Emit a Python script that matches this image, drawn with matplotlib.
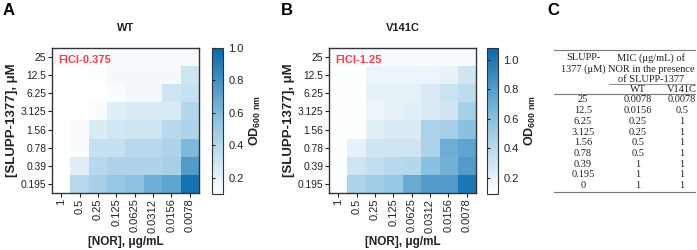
import numpy as np
import matplotlib
matplotlib.use('Agg')
import matplotlib.pyplot as plt
from matplotlib.colors import LinearSegmentedColormap, Normalize
from matplotlib.lines import Line2D

plt.rcParams['font.family'] = ['Liberation Sans', 'DejaVu Sans']
plt.rcParams['mathtext.fontset'] = 'custom'
plt.rcParams['mathtext.rm'] = 'Liberation Sans'
plt.rcParams['mathtext.bf'] = 'Liberation Sans:bold'

# checkerboard axes
nor_labels = ['1', '0.5', '0.25', '0.125', '0.0625', '0.0312', '0.0156', '0.0078']
slupp_labels = ['25', '12.5', '6.25', '3.125', '1.56', '0.78', '0.39', '0.195']

# OD600 values, rows = SLUPP-1377 (top to bottom), cols = NOR
od_wt = [
    [0.12, 0.12, 0.12, 0.13, 0.13, 0.13, 0.13, 0.13],
    [0.10, 0.10, 0.11, 0.14, 0.14, 0.14, 0.14, 0.30],
    [0.10, 0.10, 0.10, 0.12, 0.15, 0.15, 0.30, 0.32],
    [0.10, 0.10, 0.12, 0.22, 0.25, 0.25, 0.25, 0.40],
    [0.10, 0.12, 0.25, 0.28, 0.30, 0.30, 0.38, 0.42],
    [0.10, 0.12, 0.33, 0.33, 0.38, 0.38, 0.42, 0.60],
    [0.10, 0.22, 0.38, 0.42, 0.42, 0.42, 0.45, 0.75],
    [0.10, 0.38, 0.45, 0.52, 0.55, 0.65, 0.70, 0.95],
]
od_v141c = [
    [0.12, 0.12, 0.12, 0.12, 0.12, 0.12, 0.12, 0.12],
    [0.10, 0.10, 0.18, 0.18, 0.18, 0.18, 0.20, 0.30],
    [0.10, 0.10, 0.20, 0.20, 0.20, 0.25, 0.32, 0.38],
    [0.10, 0.10, 0.18, 0.20, 0.22, 0.25, 0.30, 0.48],
    [0.10, 0.10, 0.22, 0.25, 0.25, 0.45, 0.48, 0.60],
    [0.10, 0.20, 0.30, 0.30, 0.30, 0.45, 0.70, 0.75],
    [0.10, 0.30, 0.35, 0.40, 0.42, 0.60, 0.68, 0.80],
    [0.10, 0.45, 0.50, 0.55, 0.72, 0.80, 0.80, 1.00],
]
fici = ['FICI-0.375', 'FICI-1.25']
titles = ['WT', 'V141C']
letters = ['A', 'B', 'C']
cbar_range = [(0.10, 1.00), (0.09, 1.08)]

# MIC table
tbl_slupp = ['25', '12.5', '6.25', '3.125', '1.56', '0.78', '0.39', '0.195', '0']
tbl_wt = ['0.0078', '0.0156', '0.25', '0.25', '0.5', '0.5', '1', '1', '1']
tbl_v141c = ['0.0078', '0.5', '1', '1', '1', '1', '1', '1', '1']

W, H = 697, 250
fig = plt.figure(figsize=(W / 100, H / 100), dpi=100)

def box(x0, y0, x1, y1):
    return [x0 / W, 1 - y1 / H, (x1 - x0) / W, (y1 - y0) / H]

cmap = LinearSegmentedColormap.from_list('od', ['#ffffff', '#8ec3e2', '#0669ae'])
txt = '#222222'

panels = [(od_wt, 52, 212), (od_v141c, 329, 487)]
for i, (data, x0, cx) in enumerate(panels):
    ax = fig.add_axes(box(x0, 48, x0 + 147, 193))
    norm = Normalize(*cbar_range[i])
    im = ax.imshow(np.array(data), cmap=cmap, norm=norm, aspect='auto')
    ax.set_xticks(range(len(nor_labels)))
    ax.set_xticklabels(nor_labels, rotation=90, fontsize=8)
    ax.set_yticks(range(len(slupp_labels)))
    ax.set_yticklabels(slupp_labels, fontsize=7.4)
    ax.tick_params(length=3, width=0.8, colors=txt, pad=1)
    for s in ax.spines.values():
        s.set_linewidth(1)
        s.set_color('#333333')
    ax.set_xlabel('[NOR], \u03bcg/mL', fontsize=8.5, fontweight='bold', color=txt, va='center')
    ax.xaxis.set_label_coords(0.5, -0.34)
    ax.set_ylabel('[SLUPP-1377], \u03bcM', fontsize=9.5, fontweight='bold', color=txt, va='center')
    ax.yaxis.set_label_coords(-0.27, 0.5)
    ax.text(0.04, 0.95, fici[i], transform=ax.transAxes, color='#ff3b4a', fontsize=8,
            fontweight='bold', va='top', ha='left')
    ax.set_title(titles[i], fontsize=8, fontweight='bold', color=txt, pad=12)

    cax = fig.add_axes(box(cx, 48, cx + 11, 194))
    cb = fig.colorbar(im, cax=cax, ticks=[0.2, 0.4, 0.6, 0.8, 1.0])
    cb.ax.set_yticklabels(['0.2', '0.4', '0.6', '0.8', '1.0'])
    cb.outline.set_linewidth(0.8)
    cb.outline.set_edgecolor('#333333')
    cax.tick_params(left=True, right=False, labelleft=False, labelright=True,
                    direction='in', length=2, width=0.8, labelsize=8, colors=txt, pad=4)
    cax.set_ylabel(r'$\mathbf{OD}_{\mathbf{600\ nm}}$', fontsize=9, color=txt, labelpad=3)
    cax.yaxis.set_label_position('right')

for letter, lx in zip(letters, [3, 281, 547]):
    fig.text(lx / W, 1 - 3 / H, letter, fontsize=12, fontweight='bold', va='top', ha='left')

# table C drawn in pixel layout space
tax = fig.add_axes([0, 0, 1, 1])
tax.set_xlim(0, W)
tax.set_ylim(H, 0)
tax.axis('off')
serif = dict(family=['Liberation Serif'], fontsize=7.5, color='#222222', ha='center', va='center')
col_x = [583, 638, 682]
lc = '#777777'
tax.add_line(Line2D([554, 695], [49.5, 49.5], color=lc, lw=0.8))
tax.add_line(Line2D([609, 695], [84, 84], color=lc, lw=0.6))
tax.add_line(Line2D([554, 695], [94, 94], color=lc, lw=0.8))
tax.add_line(Line2D([554, 695], [191.5, 191.5], color=lc, lw=0.8))
tax.text(col_x[0], 58, 'SLUPP-', **serif)
tax.text(col_x[0], 69, '1377 (\u03bcM)', **serif)
tax.text(651, 58, 'MIC (\u03bcg/mL) of', **serif)
tax.text(651, 69, 'NOR in the presence', **serif)
tax.text(651, 79, 'of SLUPP-1377', **serif)
tax.text(col_x[1], 89, 'WT', **serif)
tax.text(col_x[2], 89, 'V141C', **serif)
row_h = 10.7
for r, (a, b, c) in enumerate(zip(tbl_slupp, tbl_wt, tbl_v141c)):
    y = 100 + r * row_h
    tax.text(col_x[0], y, a, **serif)
    tax.text(col_x[1], y, b, **serif)
    tax.text(col_x[2], y, c, **serif)

fig.savefig('out.png', dpi=100)
